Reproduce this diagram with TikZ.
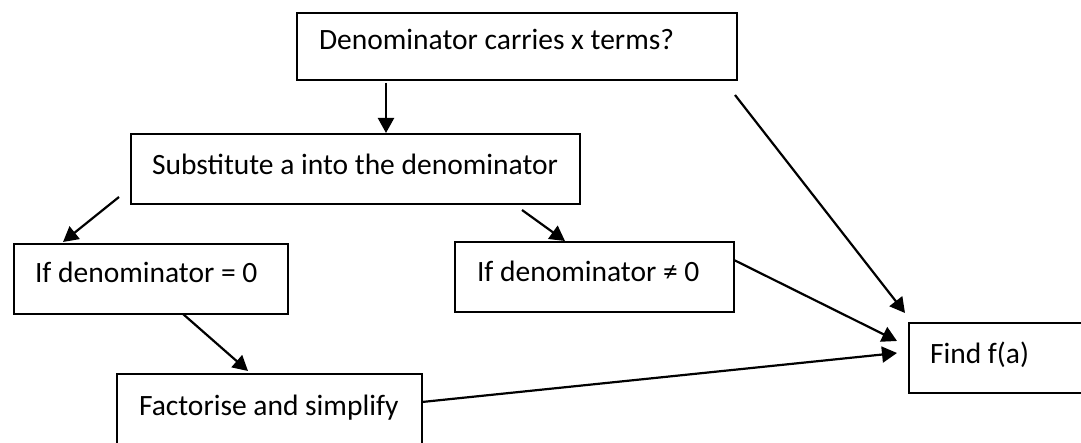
\documentclass[tikz,border=0pt]{standalone}
\usepackage{fontspec}
\setmainfont{Carlito}
\usetikzlibrary{arrows.meta,calc}
\tikzset{
  box/.style={draw, line width=1.5pt, inner sep=0pt, outer sep=0pt, anchor=north west},
  lbl/.style={anchor=base west, inner sep=0pt, outer sep=0pt, font=\fontsize{29.5}{32}\selectfont},
  arr/.style={line width=2.2pt, -{Triangle[length=15pt,width=16pt]}}
}
\begin{document}
\begin{tikzpicture}[x=1pt,y=-1pt]
\useasboundingbox (0,0) rectangle (1081,443);
% boxes
\node[box, minimum width=440pt, minimum height=67pt] (b1) at (297,13) {};
\node[box, minimum width=449pt, minimum height=70pt] (b2) at (131,134) {};
\node[box, minimum width=274pt, minimum height=70pt] (b3) at (14,244) {};
\node[box, minimum width=279pt, minimum height=70pt] (b4) at (455,242) {};
\node[box, minimum width=305pt, minimum height=70pt] (b5) at (117,374) {};
\node[box, minimum width=173pt, minimum height=70pt] (b6) at (909,323) {};
% texts
\node[lbl] (t1) at ($(b1.north west)+(22,37)$) {Denominator carries x terms?};
\node[lbl] (t2) at ($(b2.north west)+(21,41)$) {Substitute a into the denominator};
\node[lbl] (t3) at ($(b3.north west)+(21,39)$) {If denominator = 0};
\node[lbl] (t4) at ($(b4.north west)+(22,40)$) {If denominator ≠ 0};
\node[lbl] (t5) at ($(b5.north west)+(22,41)$) {Factorise and simplify};
\node[lbl] (t6) at ($(b6.north west)+(21,40)$) {Find f(a)};
% connectors
\draw[arr] ($(b1.south west)+(89,3)$) -- ($(b2.north west)+(255,-1)$);
\draw[arr] ($(b2.south west)+(-12,-7)$) -- ($(b3.north west)+(49,-2)$);
\draw[arr] ($(b2.south west)+(391,6)$) -- ($(b4.north west)+(110,-1)$);
\draw[arr] ($(b3.south west)+(169,0)$) -- ($(b5.north west)+(131,-3)$);
\draw[arr] ($(b4.north east)+(0,18)$) -- ($(b6.north west)+(-12,18)$);
\draw[arr] ($(b1.south east)+(-2,15)$) -- ($(b6.north west)+(-4,-10)$);
\draw[arr] ($(b5.north east)+(0,28)$) -- ($(b6.north west)+(-12,30)$);
\end{tikzpicture}
\end{document}
